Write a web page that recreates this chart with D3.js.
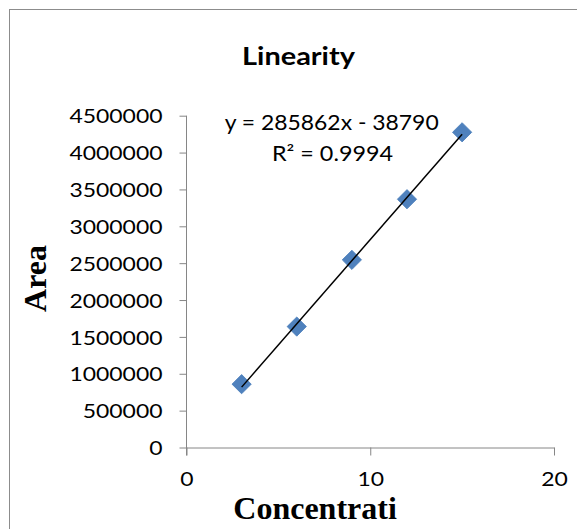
<!DOCTYPE html>
<html>
<head>
<meta charset="utf-8">
<script src="https://cdn.jsdelivr.net/npm/d3@7/dist/d3.min.js"></script>
<style>
  html, body { margin: 0; padding: 0; background: #fff; }
  svg { display: block; }
  .sans { font-family: Lato, "Open Sans", sans-serif; }
  .serif { font-family: "Liberation Serif", "Times New Roman", serif; font-weight: bold; }
</style>
</head>
<body>
<svg id="chart" width="577" height="529"></svg>
<script>
// ---- data ----
const concentration = [3, 6, 9, 12, 15];
const area = [859000, 1640000, 2545000, 3367000, 4275000];
const xTicks = [0, 10, 20];
const yTicks = [0, 500000, 1000000, 1500000, 2000000, 2500000, 3000000, 3500000, 4000000, 4500000];
const trendSlope = 285862;
const trendIntercept = -38790;
const trendRange = [3, 15];
const titleText = "Linearity";
const xTitle = "Concentrati";
const yTitle = "Area";
const eqText = "y = 285862x - 38790";
const r2Text = "R² = 0.9994";

const svg = d3.select("#chart");
const axisColor = "#868686";
const digitW = 13.3;

// chart border (extends beyond right/bottom)
svg.append("rect")
  .attr("x", 9.5).attr("y", 9.5)
  .attr("width", 700).attr("height", 700)
  .attr("fill", "none").attr("stroke", "#8c8c8c").attr("stroke-width", 1);

const x = d3.scaleLinear().domain([0, 20]).range([186.5, 554]);
const y = d3.scaleLinear().domain([0, 4500000]).range([447.5, 115.7]);

// Y axis
const yAxis = d3.axisLeft(y).tickValues(yTicks).tickSize(7).tickSizeOuter(0).tickPadding(17)
  .tickFormat(d3.format("d"));
const gy = svg.append("g").attr("transform", `translate(${x(0)},0)`).call(yAxis);
gy.select(".domain").attr("stroke", axisColor).attr("d", `M0,${y(4500000)}V${y(0)+8}`);
gy.selectAll(".tick line").attr("stroke", axisColor);
gy.selectAll(".tick text").attr("dy", "0.36em");

// X axis
const xAxis = d3.axisBottom(x).tickValues(xTicks).tickSize(8).tickSizeOuter(0).tickPadding(16);
const gx = svg.append("g").attr("transform", `translate(0,${y(0)})`).call(xAxis);
gx.select(".domain").attr("stroke", axisColor);
gx.selectAll(".tick line").attr("stroke", axisColor);
gx.selectAll(".tick text").attr("dy", "0.71em");

svg.selectAll(".tick text")
  .attr("class", "sans").attr("font-family", null).attr("font-size", 20).attr("fill", "#000")
  .attr("textLength", function() { return this.textContent.length * digitW; })
  .attr("lengthAdjust", "spacingAndGlyphs");

// markers
const pts = concentration.map((c, i) => ({c, a: area[i]}));
const diamond = d3.symbol().type(d3.symbolSquare).size(185);
svg.append("g").selectAll("path").data(pts).join("path")
  .attr("d", diamond)
  .attr("transform", d => `translate(${x(d.c)},${y(d.a)}) rotate(45)`)
  .attr("fill", "#4F81BD").attr("stroke", "#4A7EBB").attr("stroke-width", 0.8);

// trendline
const line = d3.line().x(d => x(d)).y(d => y(trendSlope * d + trendIntercept));
svg.append("path").attr("d", line(trendRange))
  .attr("stroke", "#000").attr("stroke-width", 1.5).attr("fill", "none");

// title
svg.append("text").attr("class", "sans").attr("x", 298.5).attr("y", 65)
  .attr("text-anchor", "middle").attr("font-size", 24.5).attr("font-weight", "bold")
  .attr("textLength", 113).attr("lengthAdjust", "spacingAndGlyphs").text(titleText);

// equation
svg.append("text").attr("class", "sans").attr("x", 331.7).attr("y", 130)
  .attr("text-anchor", "middle").attr("font-size", 20.5)
  .attr("textLength", 214).attr("lengthAdjust", "spacingAndGlyphs").text(eqText);
svg.append("text").attr("class", "sans").attr("x", 332.5).attr("y", 160.5)
  .attr("text-anchor", "middle").attr("font-size", 20.5)
  .attr("textLength", 121).attr("lengthAdjust", "spacingAndGlyphs").text(r2Text);

// axis titles
svg.append("text").attr("class", "serif").attr("x", 233.3).attr("y", 519)
  .attr("font-size", 32).text(xTitle);
svg.append("text").attr("class", "serif")
  .attr("transform", "translate(46,278.5) rotate(-90)")
  .attr("text-anchor", "middle").attr("font-size", 32).text(yTitle);
</script>
</body>
</html>
